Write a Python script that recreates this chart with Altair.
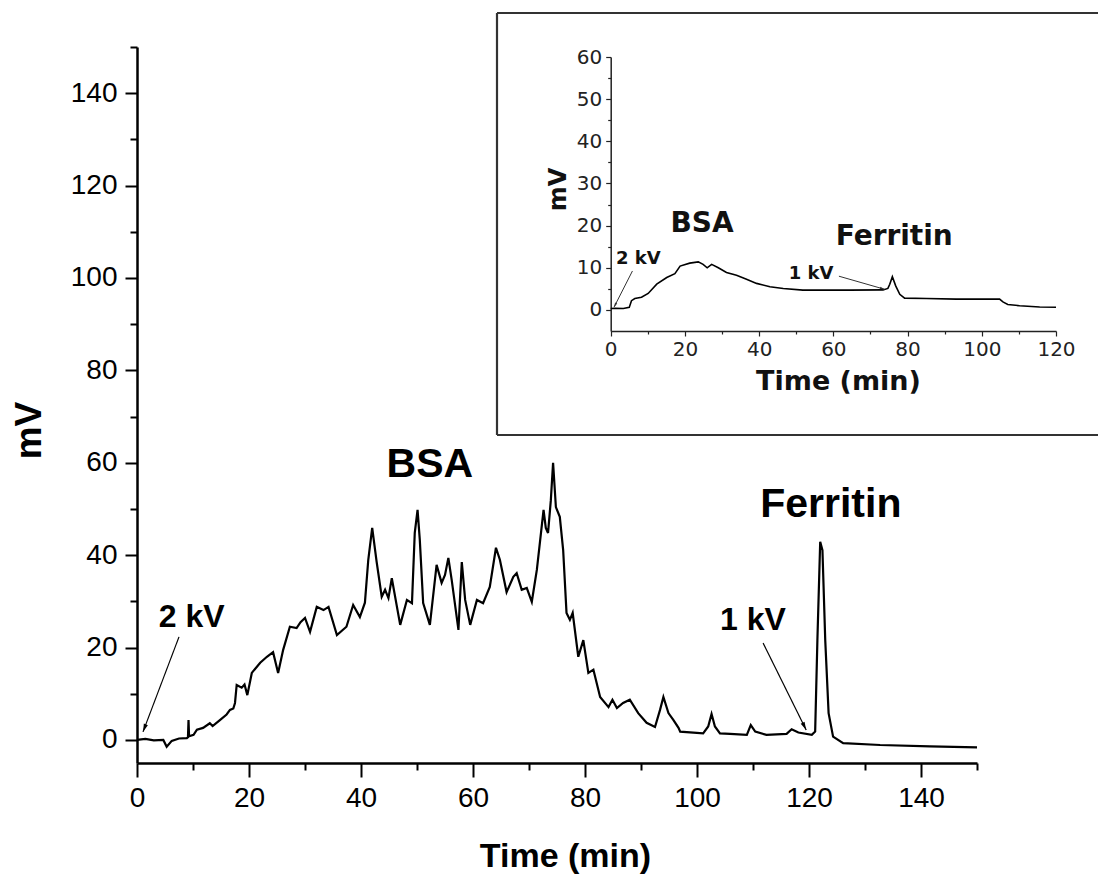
import altair as alt
import pandas as pd

# ---------------- data ----------------
main_t = [0, 1.5, 3.0, 4.7, 5.3, 6.2, 7.5, 8.9, 9.1, 9.2, 9.3, 10.1, 10.7, 11.8, 13.0, 13.5,
          14.8, 16.0, 16.6, 17.2, 17.5, 17.8, 18.7, 19.2, 19.7, 20.5, 22.0, 23.2, 24.3, 25.2,
          26.1, 27.3, 28.5, 29.2, 30.0, 30.9, 32.1, 33.3, 34.2, 35.7, 37.4, 38.6, 39.8, 40.7,
          41.3, 42.0, 42.8, 43.7, 44.3, 44.9, 45.5, 47.0, 48.2, 49.1, 49.6, 50.1, 50.5, 51.1,
          52.3, 53.5, 54.4, 55.0, 55.6, 56.2, 57.4, 58.0, 58.6, 59.5, 60.7, 61.8, 63.0, 64.1,
          64.8, 66.0, 67.2, 67.8, 68.7, 69.6, 70.5, 71.4, 72.0, 72.6, 73.0, 73.4, 73.9, 74.3,
          74.8, 75.5, 76.1, 76.7, 77.3, 77.8, 78.8, 79.7, 80.6, 81.5, 82.7, 84.2, 84.9, 85.7,
          86.8, 88.0, 89.5, 91.0, 92.5, 93.4, 94.0, 94.9, 95.8, 96.7, 97.0, 101.1, 102.0, 102.6,
          103.2, 104.1, 105.9, 108.9, 109.6, 110.4, 112.4, 116.0, 116.9, 118.1, 120.5, 121.1,
          121.5, 122.0, 122.4, 122.9, 123.5, 124.3, 126.1, 132.7, 141.6, 150.0]
main_v = [0, 0.2, -0.1, 0, -1.5, -0.2, 0.3, 0.4, 0.6, 4.3, 0.8, 1.1, 2.2, 2.6, 3.6, 3.0,
          4.3, 5.5, 6.5, 6.8, 8.0, 11.9, 11.3, 12.0, 9.7, 14.5, 16.7, 18.0, 19.0, 14.5,
          19.5, 24.5, 24.2, 25.5, 26.4, 23.4, 28.8, 28.1, 28.8, 22.7, 24.5, 29.2, 26.6, 29.7,
          39.0, 45.9, 38.5, 31.0, 32.5, 30.7, 35.0, 24.9, 30.3, 29.6, 44.8, 49.8, 43.3, 29.6,
          24.9, 37.9, 34.0, 35.7, 39.4, 34.6, 23.8, 38.5, 30.3, 24.9, 30.3, 29.6, 33.1, 41.6,
          39.0, 32.0, 35.3, 36.1, 32.5, 32.9, 29.9, 36.8, 43.3, 49.8, 45.9, 44.8, 51.9, 60.0,
          50.4, 48.3, 41.1, 27.5, 26.0, 27.5, 18.0, 21.6, 14.5, 15.2, 9.3, 7.1, 8.7, 6.9,
          8.0, 8.7, 5.8, 3.7, 2.8, 6.5, 9.3, 5.8, 4.3, 2.6, 1.8, 1.4, 2.9, 5.6,
          2.9, 1.4, 1.3, 1.1, 3.2, 1.8, 1.1, 1.3, 2.3, 1.6, 1.1, 1.8,
          21.6, 42.9, 41.1, 21.6, 5.8, 0.7, -0.7, -1.1, -1.4, -1.6]

inset_t = [0, 1.2, 3.4, 5.0, 5.6, 6.5, 8.3, 10.1, 12.4, 15.1, 17.3, 18.7, 21.3, 23.6, 24.9,
           26.0, 27.2, 29.0, 31.2, 33.9, 36.6, 39.3, 42.9, 46.5, 51.8, 57.2, 64.4, 73.4, 74.7,
           75.2, 75.9, 76.8, 77.9, 79.2, 85.1, 93.1, 104.8, 105.7, 107.0, 110.2, 115.6, 120.0]
inset_v = [0.35, 0.4, 0.35, 0.6, 2.2, 2.7, 3.0, 3.9, 6.1, 7.7, 8.6, 10.4, 11.1, 11.4, 10.8,
           10.0, 10.8, 10.0, 8.9, 8.2, 7.3, 6.3, 5.5, 5.1, 4.7, 4.7, 4.7, 4.75, 5.1,
           6.1, 7.9, 5.7, 3.7, 2.8, 2.7, 2.55, 2.55, 1.9, 1.3, 1.0, 0.7, 0.65]

main_ticks_x = list(range(0, 151, 10))
main_ticks_y = list(range(0, 151, 10))
inset_ticks_x = list(range(0, 121, 10))
inset_ticks_y = list(range(0, 61, 5))

main_peak_names = ["BSA", "Ferritin"]
main_peak_t = [52.3, 123.9]
main_peak_v = [56.9, 48.3]
main_kv_names = ["2 kV", "1 kV"]
main_kv_t = [3.9, 104.1]
main_kv_v = [24.5, 23.8]
main_arrow_t0 = [7.5, 111.8]
main_arrow_v0 = [22.3, 21.0]
main_arrow_t1 = [1.07, 119.5]
main_arrow_v1 = [1.73, 2.16]
main_arrow_ang = [200.8, 153.7]

inset_peak_names = ["BSA", "Ferritin"]
inset_peak_t = [24.6, 76.4]
inset_peak_v = [18.4, 15.3]
inset_kv_names = ["2 kV", "1 kV"]
inset_kv_t = [1.4, 48.0]
inset_kv_v = [10.8, 7.3]
inset_arrow_t0 = [5.86, 61.5]
inset_arrow_v0 = [9.24, 8.0]
inset_arrow_t1 = [0.9, 73.8]
inset_arrow_v1 = [0.66, 4.9]
inset_arrow_ang = [207.3, 105.8]

# ---------------- tables ----------------
main_df = pd.DataFrame({"t": main_t, "v": main_v})
inset_df = pd.DataFrame({"t": inset_t, "v": inset_v})
main_peaks = pd.DataFrame({"t": main_peak_t, "v": main_peak_v, "txt": main_peak_names})
main_kv = pd.DataFrame({"t": main_kv_t, "v": main_kv_v, "txt": main_kv_names})
main_arrows = pd.DataFrame({"t0": main_arrow_t0, "v0": main_arrow_v0, "t1": main_arrow_t1,
                            "v1": main_arrow_v1, "ang": main_arrow_ang})
inset_peaks = pd.DataFrame({"t": inset_peak_t, "v": inset_peak_v, "txt": inset_peak_names})
inset_kv = pd.DataFrame({"t": inset_kv_t, "v": inset_kv_v, "txt": inset_kv_names})
inset_arrows = pd.DataFrame({"t0": inset_arrow_t0, "v0": inset_arrow_v0, "t1": inset_arrow_t1,
                             "v1": inset_arrow_v1, "ang": inset_arrow_ang})

W, H = 840, 716
SANS = "Liberation Sans, Arial, Helvetica, sans-serif"
WIDE = "DejaVu Sans, Verdana, sans-serif"


def MX():
    return alt.Scale(domain=[0, 150], nice=False, zero=False)


def MY():
    return alt.Scale(domain=[-5, 150], nice=False, zero=False)


def IX():
    return alt.Scale(domain=[0, 120], range=[473.7, 919], nice=False, zero=False)


def IY():
    return alt.Scale(domain=[-5, 60], range=[284, 10], nice=False, zero=False)


ARROW = "M0,0L-0.45,1.7L0.45,1.7Z"

main_x_axis = alt.Axis(
    orient="bottom", values=main_ticks_x, grid=False,
    labelExpr="datum.value % 20 === 0 ? datum.label : ''",
    tickSize={"condition": {"test": "datum.value % 20 === 0", "value": 14}, "value": 7},
    tickWidth=2, tickColor="black", domainColor="black", domainWidth=2.5,
    labelFont=SANS, labelFontSize=28, labelColor="black", labelPadding=7,
    labelFlush=False, labelOverlap=False,
    title="Time (min)", titleFont=SANS, titleFontSize=34, titleFontWeight="bold",
    titleColor="black", titleX=428, titleY=103, titleAlign="center",
    titleBaseline="alphabetic",
)
main_y_axis = alt.Axis(
    orient="left", values=main_ticks_y, grid=False,
    labelExpr="datum.value % 20 === 0 ? datum.label : ''",
    tickSize={"condition": {"test": "datum.value % 20 === 0", "value": 12}, "value": 7},
    tickWidth=2, tickColor="black", domainColor="black", domainWidth=2.5,
    labelFont=SANS, labelFontSize=28, labelColor="black", labelPadding=8,
    labelFlush=False, labelOverlap=False,
    title="mV", titleFont=SANS, titleFontSize=37, titleFontWeight="bold",
    titleColor="black", titleAngle=270, titleX=-97, titleY=383, titleAlign="center",
    titleBaseline="alphabetic",
)
inset_x_axis = alt.Axis(
    orient="bottom", offset=-432, values=inset_ticks_x, grid=False,
    labelExpr="datum.value % 20 === 0 ? datum.label : ''",
    tickSize={"condition": {"test": "datum.value % 20 === 0", "value": 5}, "value": 3},
    tickWidth=1.2, tickColor="#222", domainColor="#222", domainWidth=1.5,
    labelFont=WIDE, labelFontSize=20, labelColor="#222", labelPadding=3,
    labelFlush=False, labelOverlap=False,
    title="Time (min)", titleFont=WIDE, titleFontSize=27, titleFontWeight="bold",
    titleColor="#111", titleX=701, titleY=58, titleAlign="center",
    titleBaseline="alphabetic",
)
inset_y_axis = alt.Axis(
    orient="left", offset=-473.7, values=inset_ticks_y, grid=False,
    labelExpr="datum.value % 10 === 0 ? datum.label : ''",
    tickSize={"condition": {"test": "datum.value % 10 === 0", "value": 5}, "value": 3},
    tickWidth=1.2, tickColor="#222", domainColor="#222", domainWidth=1.5,
    labelFont=WIDE, labelFontSize=20, labelColor="#222", labelPadding=4,
    labelFlush=False, labelOverlap=False,
    title="mV", titleFont=WIDE, titleFontSize=24, titleFontWeight="bold",
    titleColor="#111", titleAngle=270, titleX=-45, titleY=142, titleAlign="center",
    titleBaseline="alphabetic",
)

# ---------------- main panel ----------------
main_line = alt.Chart(main_df).mark_line(color="black", strokeWidth=2.2).encode(
    x=alt.X("t:Q", scale=MX(), axis=main_x_axis),
    y=alt.Y("v:Q", scale=MY(), axis=main_y_axis),
)
main_peak_text = alt.Chart(main_peaks).mark_text(
    font=SANS, fontSize=41, fontWeight="bold", align="center", baseline="alphabetic", color="black"
).encode(x=alt.X("t:Q", scale=MX(), axis=None), y=alt.Y("v:Q", scale=MY(), axis=None), text="txt:N")
main_kv_text = alt.Chart(main_kv).mark_text(
    font=SANS, fontSize=32, fontWeight="bold", align="left", baseline="alphabetic", color="black"
).encode(x=alt.X("t:Q", scale=MX(), axis=None), y=alt.Y("v:Q", scale=MY(), axis=None), text="txt:N")
main_arrow_lines = alt.Chart(main_arrows).mark_rule(color="black", strokeWidth=1.2).encode(
    x=alt.X("t0:Q", scale=MX(), axis=None), x2="t1:Q",
    y=alt.Y("v0:Q", scale=MY(), axis=None), y2="v1:Q",
)
main_arrow_heads = alt.Chart(main_arrows).mark_point(
    shape=ARROW, filled=True, color="black", opacity=1, size=90
).encode(
    x=alt.X("t1:Q", scale=MX(), axis=None), y=alt.Y("v1:Q", scale=MY(), axis=None),
    angle=alt.Angle("ang:Q", scale=None),
)

# ---------------- inset panel ----------------
frame = alt.Data(values=[{}])
box_top = alt.Chart(frame).mark_rule(color="#333", strokeWidth=2.2).encode(
    x=alt.value(360), x2=alt.value(961), y=alt.value(-34))
box_bottom = alt.Chart(frame).mark_rule(color="#333", strokeWidth=2.2).encode(
    x=alt.value(360), x2=alt.value(961), y=alt.value(388))
box_left = alt.Chart(frame).mark_rule(color="#333", strokeWidth=2.2).encode(
    x=alt.value(360), y=alt.value(-34), y2=alt.value(388))

inset_line = alt.Chart(inset_df).mark_line(color="black", strokeWidth=1.6).encode(
    x=alt.X("t:Q", scale=IX(), axis=inset_x_axis),
    y=alt.Y("v:Q", scale=IY(), axis=inset_y_axis),
)
inset_peak_text = alt.Chart(inset_peaks).mark_text(
    font=WIDE, fontSize=28, fontWeight="bold", align="center", baseline="alphabetic", color="#111"
).encode(x=alt.X("t:Q", scale=IX(), axis=None), y=alt.Y("v:Q", scale=IY(), axis=None), text="txt:N")
inset_kv_text = alt.Chart(inset_kv).mark_text(
    font=WIDE, fontSize=18, fontWeight="bold", align="left", baseline="alphabetic", color="#111"
).encode(x=alt.X("t:Q", scale=IX(), axis=None), y=alt.Y("v:Q", scale=IY(), axis=None), text="txt:N")
inset_arrow_lines = alt.Chart(inset_arrows).mark_rule(color="#333", strokeWidth=1).encode(
    x=alt.X("t0:Q", scale=IX(), axis=None), x2="t1:Q",
    y=alt.Y("v0:Q", scale=IY(), axis=None), y2="v1:Q",
)
inset_arrow_heads = alt.Chart(inset_arrows).mark_point(
    shape=ARROW, filled=True, color="#333", opacity=1, size=30
).encode(
    x=alt.X("t1:Q", scale=IX(), axis=None), y=alt.Y("v1:Q", scale=IY(), axis=None),
    angle=alt.Angle("ang:Q", scale=None),
)

chart = alt.layer(
    main_line, main_peak_text, main_kv_text, main_arrow_lines, main_arrow_heads,
    box_top, box_bottom, box_left,
    inset_line, inset_peak_text, inset_kv_text, inset_arrow_lines, inset_arrow_heads,
).resolve_scale(
    x="independent", y="independent"
).properties(
    width=W, height=H,
    padding={"left": 137, "top": 47, "right": 121, "bottom": 117},
    autosize=alt.AutoSizeParams(type="none"),
    background="white",
).configure_view(stroke=None)

chart.save("out.html", embed_options={"renderer": "svg", "actions": False})
